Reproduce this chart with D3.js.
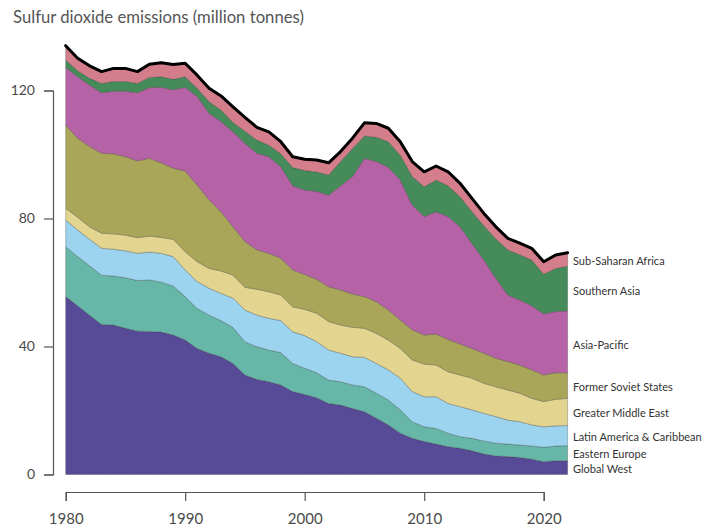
<!DOCTYPE html>
<html><head><meta charset="utf-8">
<script src="https://cdn.jsdelivr.net/npm/d3@7"></script>
<style>
body{margin:0;background:#fff}
svg{display:block}
text{font-family:Lato,"Open Sans",sans-serif}
</style>
</head><body>
<svg id="chart" width="705" height="529"></svg>
<script>
const years = [1980,1981,1982,1983,1984,1985,1986,1987,1988,1989,1990,1991,1992,1993,1994,1995,1996,1997,1998,1999,2000,2001,2002,2003,2004,2005,2006,2007,2008,2009,2010,2011,2012,2013,2014,2015,2016,2017,2018,2019,2020,2021,2022];

const globalWest     = [55.6,52.7,49.8,46.9,46.7,45.7,44.8,44.7,44.5,43.6,42.0,39.4,37.9,36.8,34.7,31.1,29.7,29.0,28.0,25.9,25.0,24.0,22.2,21.7,20.6,19.6,17.6,15.5,12.9,11.3,10.3,9.5,8.7,8.2,7.4,6.4,5.8,5.6,5.3,4.8,4.0,4.3,4.3];
const easternEurope  = [15.6,15.4,15.4,15.4,15.3,15.8,15.8,16.1,15.6,15.3,13.6,12.5,11.9,11.3,11.2,10.4,10.2,9.9,10.1,8.8,8.2,7.8,7.3,7.3,7.4,7.8,7.8,7.8,7.3,5.2,4.6,4.9,4.2,3.6,3.9,4.1,4.0,3.9,3.9,4.1,4.5,4.6,4.7];
const latinAmerica   = [8.3,8.3,8.3,8.4,8.4,8.4,8.5,8.7,9.0,9.2,8.3,8.4,8.4,8.5,9.2,9.9,9.9,9.9,10.0,9.9,10.2,9.7,9.4,8.9,8.8,9.2,9.3,9.4,9.9,9.4,9.4,9.9,9.3,9.4,8.9,8.6,8.3,7.5,7.3,6.6,6.4,6.3,6.3];
const middleEast     = [3.7,4.0,3.9,4.7,4.8,4.9,4.9,5.0,5.0,5.4,5.7,6.2,6.2,7.0,7.2,7.1,8.1,8.3,8.0,7.8,8.2,8.9,8.9,8.8,9.2,9.1,9.4,9.3,9.3,9.9,10.2,9.9,9.9,9.9,9.9,9.4,9.3,9.4,8.9,8.3,7.9,8.3,8.5];
const formerSoviet   = [26.0,24.7,25.1,25.0,25.0,24.5,24.0,24.3,23.3,22.2,25.2,24.0,21.4,18.5,15.1,14.3,12.3,12.0,11.5,11.5,10.9,10.6,10.9,11.0,10.4,9.9,9.9,9.4,8.9,9.4,9.1,9.7,10.1,9.7,9.3,9.4,8.9,8.9,8.8,8.9,8.3,8.3,8.0];
const asiaPacific    = [18.0,19.2,19.2,18.9,19.6,20.5,21.3,22.1,23.6,24.5,26.2,27.6,27.1,28.2,29.7,30.7,30.2,30.2,28.6,26.3,26.4,27.5,28.6,32.5,36.7,43.2,43.8,44.6,43.7,39.0,37.0,38.2,38.4,36.6,32.8,29.1,25.0,20.8,20.3,20.0,19.1,19.1,19.4];
const southernAsia   = [2.3,1.9,2.1,2.9,3.0,3.0,2.9,3.2,3.3,3.3,3.3,2.6,3.6,3.6,2.9,3.8,4.1,3.6,4.0,5.7,6.1,6.0,6.3,7.6,8.8,7.0,7.6,8.0,7.8,8.9,9.3,9.9,9.6,9.4,9.9,10.7,12.3,14.1,14.2,14.3,12.4,13.5,13.9];
const subSaharan     = [4.5,3.9,3.9,3.7,4.1,4.1,3.7,4.1,4.4,4.6,4.2,4.1,4.2,4.4,4.9,4.3,4.0,4.2,3.8,3.4,3.5,3.8,3.8,3.1,3.2,4.1,4.3,4.2,4.2,4.7,4.7,4.4,4.4,4.2,4.2,3.9,3.8,3.6,3.6,3.7,3.9,4.2,4.2];

const seriesNames = ["Global West","Eastern Europe","Latin America & Caribbean","Greater Middle East","Former Soviet States","Asia-Pacific","Southern Asia","Sub-Saharan Africa"];
const seriesValues = [globalWest,easternEurope,latinAmerica,middleEast,formerSoviet,asiaPacific,southernAsia,subSaharan];
const seriesColors = ["#574b98","#66b7a7","#9cd3ef","#e3d48f","#a9a65a","#b563a6","#468c5a","#d47e8b"];

const yTicks = [0,40,80,120];
const xTicks = [1980,1990,2000,2010,2020];
const title = "Sulfur dioxide emissions (million tonnes)";

const rows = years.map((yr,i)=>{
  const r = {year: yr};
  seriesNames.forEach((n,k)=>{ r[n] = seriesValues[k][i]; });
  return r;
});

const svg = d3.select("#chart");

const x = d3.scaleLinear().domain([1980,2022]).range([65.7, 567.6]);
const y = d3.scaleLinear().domain([0,120]).range([474.5, 90.5]);

const stack = d3.stack().keys(seriesNames);
const layers = stack(rows);

const area = d3.area()
  .x(d=>x(d.data.year))
  .y0(d=>y(d[0]))
  .y1(d=>y(d[1]));

svg.append("g").selectAll("path")
  .data(layers)
  .join("path")
  .attr("d", area)
  .attr("fill", (d,i)=>seriesColors[i])
  .attr("stroke", "rgba(40,40,40,0.45)")
  .attr("stroke-width", 0.6)
  .attr("stroke-linejoin","round");

const topLayer = layers[layers.length-1];
const totalLine = d3.line()
  .x(d=>x(d.data.year))
  .y(d=>y(d[1]));
svg.append("path")
  .datum(topLayer)
  .attr("d", totalLine)
  .attr("fill","none")
  .attr("stroke","#000")
  .attr("stroke-width",3)
  .attr("stroke-linejoin","round")
  .attr("stroke-linecap","round");

// y axis
const yAxis = d3.axisLeft(y).tickValues(yTicks).tickSize(9).tickSizeOuter(9).tickPadding(9);
const gy = svg.append("g").attr("transform","translate(53,0)").call(yAxis);
gy.selectAll("path,line").attr("stroke","#555").attr("stroke-width",1.2);
gy.selectAll("text").attr("fill","#4a4a4a").style("font-size","14px").style("font-family","Lato, sans-serif");

// x axis
const xAxisScale = x.copy().domain([1980,2020]).range([x(1980), x(2020)]);
const xAxis = d3.axisBottom(xAxisScale).tickValues(xTicks).tickFormat(d3.format("d")).tickSize(9).tickSizeOuter(9).tickPadding(12);
const gx = svg.append("g").attr("transform","translate(0,492)").call(xAxis);
gx.selectAll("path,line").attr("stroke","#555").attr("stroke-width",1.2);
gx.selectAll("text").attr("fill","#4a4a4a").style("font-size","15px").style("font-family","Lato, sans-serif");

// title
svg.append("text").attr("x",13).attr("y",23).attr("fill","#555")
  .style("font-size","16.7px").text(title);

// labels at right end
const last = years.length-1;
const labelNudge = [2, 1, 2, 1, 1.5, 3.5, 3, 1.5];
svg.append("g").selectAll("text")
  .data(layers)
  .join("text")
  .attr("x", 573)
  .attr("y", (d,i)=>y((d[last][0]+d[last][1])/2) + labelNudge[i])
  .attr("dy","0.35em")
  .attr("fill","#333")
  .style("font-size","11px")
  .text(d=>d.key);
</script>
</body></html>
